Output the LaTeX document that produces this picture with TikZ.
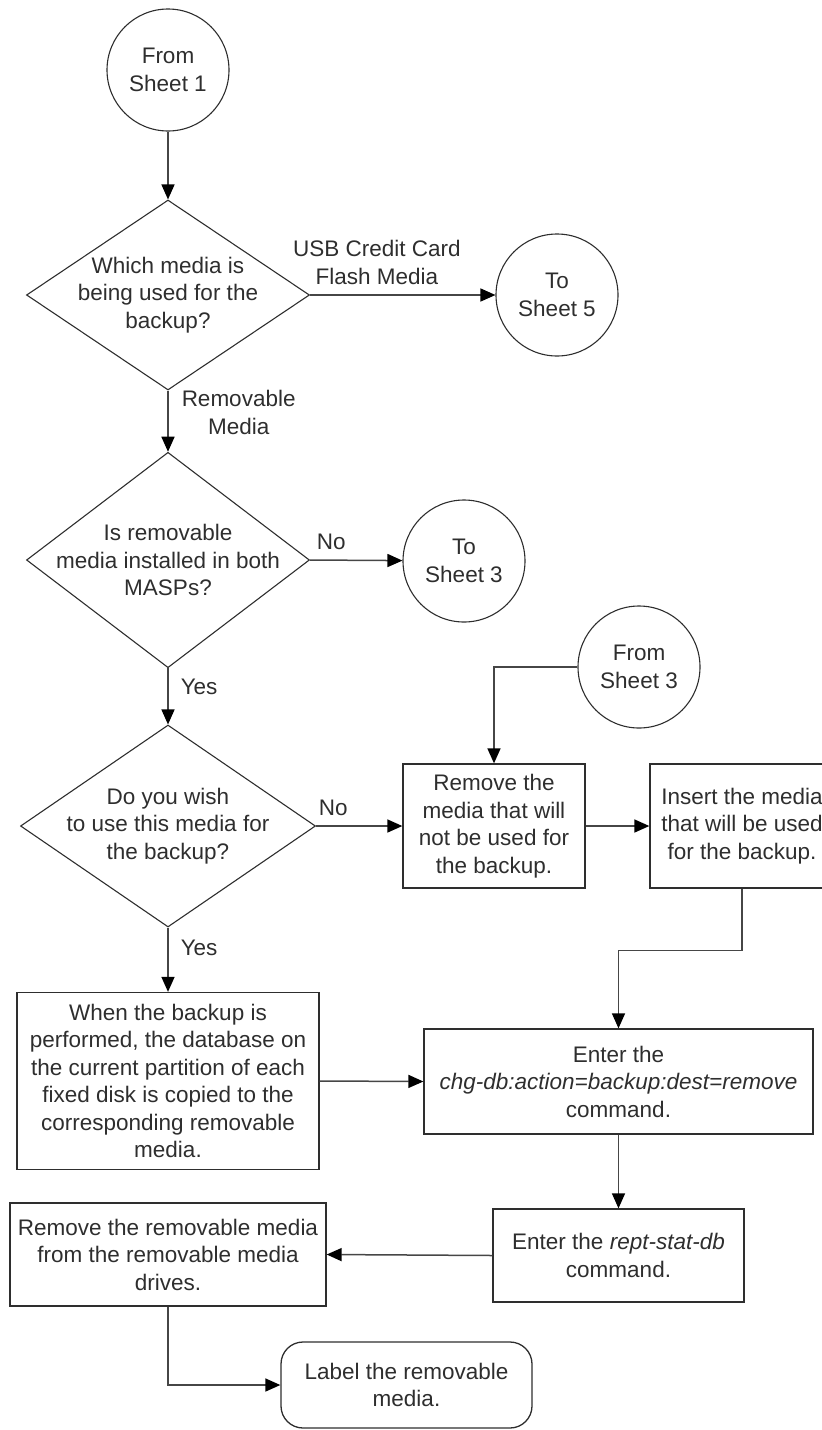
\documentclass[tikz,border=0pt]{standalone}
\usepackage{fontspec}
\setmainfont{Liberation Sans}
\usetikzlibrary{shapes.geometric,arrows.meta}
\definecolor{ink}{HTML}{2E2E2E}
\definecolor{wire}{HTML}{464646}
\begin{document}
\begin{tikzpicture}[x=1pt,y=-1pt,
  every node/.style={font=\fontsize{22.5}{27.5}\selectfont, text=ink, align=center},
  conn/.style={draw=wire, line width=1.5pt, -{Triangle[length=15pt,width=13pt,color=black]}},
  sheet/.style={circle, draw=ink, line width=1.1pt, minimum size=122pt, inner sep=0pt},
  ask/.style={diamond, draw=ink, line width=1.1pt, inner xsep=-40pt, inner ysep=0pt,
              minimum width=283pt, minimum height=190pt},
  stepbox/.style={rectangle, draw=ink, line width=1.3pt, inner sep=0pt},
  lbl/.style={inner sep=0pt}
]
\useasboundingbox (0,0) rectangle (822,1430);

% connectors to other sheets
\node[sheet] (from1) at (168,70) {From\\Sheet 1};
\node[sheet] (to5) at (557,295) {To\\Sheet 5};
\node[sheet] (to3) at (464,561) {To\\Sheet 3};
\node[sheet] (from3) at (639,667) {From\\Sheet 3};

% decisions
\node[ask] (media) at (168,295) {Which media is\\being used for the\\backup?};
\node[ask] (inst) at (168,560) {Is removable\\media installed in both\\MASPs?};
\node[ask, minimum width=295pt, minimum height=202pt] (wish) at (168,826)
  {Do you wish\\to use this media for\\the backup?};

% steps
\node[stepbox, minimum width=182pt, minimum height=124pt] (pull) at (494,826)
  {Remove the\\media that will\\not be used for\\the backup.};
\node[stepbox, minimum width=184pt, minimum height=124pt] (insert) at (742,826)
  {Insert the media\\that will be used\\for the backup.};
\node[stepbox, minimum width=302pt, minimum height=177pt] (copy) at (168,1081)
  {When the backup is\\performed, the database on\\the current partition of each\\fixed disk is copied to the\\corresponding removable\\media.};
\node[stepbox, minimum width=389pt, minimum height=105pt] (chg) at (618.5,1081.5)
  {Enter the\\\textit{chg-db:action=backup:dest=remove}\\command.};
\node[stepbox, minimum width=251pt, minimum height=93pt] (rept) at (618.5,1255.5)
  {Enter the \textit{rept-stat-db}\\command.};
\node[stepbox, minimum width=316pt, minimum height=103pt] (unload) at (168,1254.5)
  {Remove the removable media\\from the removable media\\drives.};
\node[stepbox, rounded corners=22pt, minimum width=251pt, minimum height=86pt] (tag) at (406.5,1385)
  {Label the removable\\media.};

% flow
\draw[conn] (from1) -- (media);
\draw[conn] (media.east) -- node[lbl, above=10pt, pos=0.36] {USB Credit Card\\Flash Media} (to5);
\draw[conn] (media.south) -- node[lbl, right=13pt, pos=0.36] {Removable\\Media} (inst.north);
\draw[conn] (inst.east) -- node[lbl, above=10pt, pos=0.23] {No} (to3);
\draw[conn] (inst.south) -- node[lbl, right=12pt, pos=0.33] {Yes} (wish.north);
\draw[conn] (wish.east) -- node[lbl, above=10pt, pos=0.2] {No} (pull.west);
\draw[conn] (from3.west) -| (pull.north);
\draw[conn] (pull.east) -- (insert.west);
\draw[conn] (insert.south) -- ++(0,62) -| (chg.north);
\draw[conn] (wish.south) -- node[lbl, right=12pt, pos=0.32] {Yes} (copy.north);
\draw[conn] (copy.east) -- (chg.west);
\draw[conn] (chg.south) -- (rept.north);
\draw[conn] (rept.west) -- (unload.east);
\draw[conn] (unload.south) |- (tag.west);
\end{tikzpicture}
\end{document}
